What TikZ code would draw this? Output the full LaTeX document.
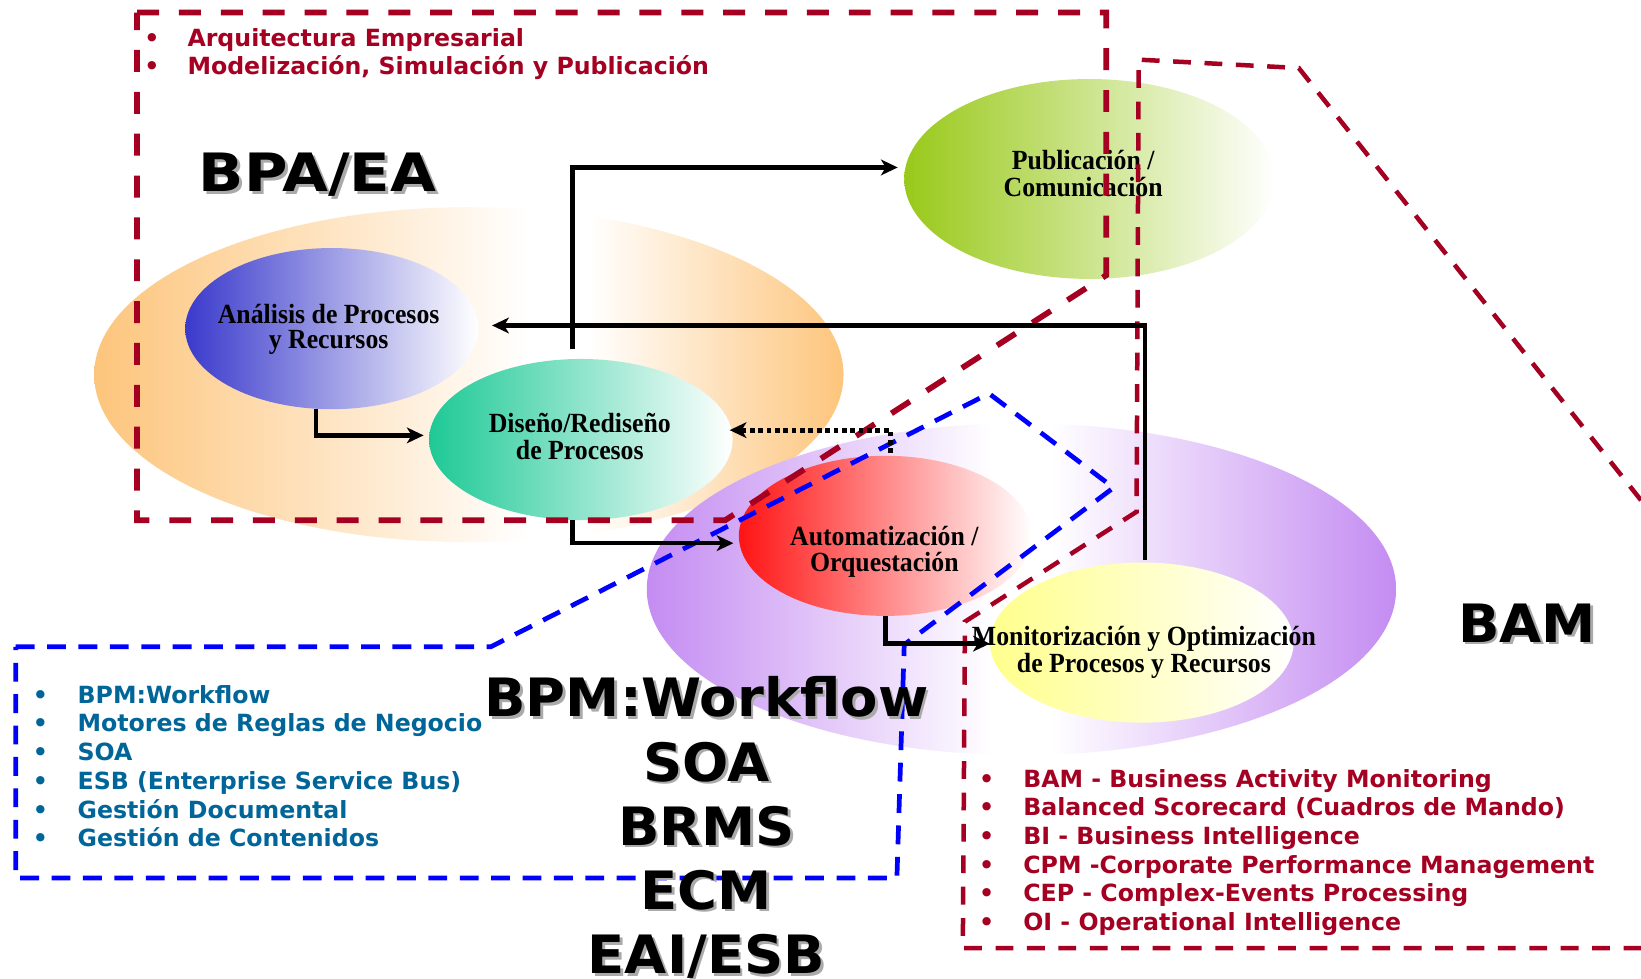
\documentclass[tikz,border=0pt]{standalone}
\usepackage{fontspec}
\setmainfont{Liberation Serif}
\newfontfamily\elfont[FakeStretch=0.93]{Liberation Serif}
\newfontfamily\bigfont[FakeStretch=1.03]{DejaVu Sans}
\newfontfamily\listfont{DejaVu Sans}
\usetikzlibrary{shapes.geometric,arrows.meta}
\definecolor{dred}{RGB}{165,0,33}
\definecolor{dblue}{RGB}{0,0,255}
\definecolor{tblue}{RGB}{0,102,153}
\definecolor{orng}{RGB}{253,197,124}
\definecolor{purp}{RGB}{196,140,242}
\definecolor{anablue}{RGB}{58,58,204}
\definecolor{teal}{RGB}{30,201,150}
\definecolor{lgreen}{RGB}{153,201,26}
\definecolor{autred}{RGB}{255,20,20}
\definecolor{yell}{RGB}{255,255,140}
\definecolor{shadowgray}{RGB}{170,170,170}
\pgfdeclarehorizontalshading{bpash}{100bp}{color(0bp)=(orng); color(25bp)=(orng); color(54bp)=(white); color(58bp)=(white); color(75bp)=(orng); color(100bp)=(orng)}
\pgfdeclarehorizontalshading{bpmsh}{100bp}{color(0bp)=(purp); color(25bp)=(purp); color(48bp)=(white); color(52bp)=(white); color(75bp)=(purp); color(100bp)=(purp)}
\newcommand\shtext[1]{\makebox[0pt][l]{\hspace{2.5pt}\raisebox{-2.5pt}{\textcolor{shadowgray}{#1}}}#1}
\tikzset{
  ell/.style={ellipse, draw=none, inner sep=0pt, right color=white},
  bigell/.style={ellipse, draw=none, inner sep=0pt, shade},
  elab/.style={font=\elfont\bfseries\fontsize{26.5}{23.5}\selectfont, anchor=base, inner sep=0pt},
  lst/.style={font=\listfont\bfseries\fontsize{22.6}{27.4}\selectfont, anchor=base west, inner sep=0pt},
  biglab/.style={font=\bigfont\bfseries\fontsize{50.5}{61.3}\selectfont, anchor=base, inner sep=0pt},
  conn/.style={line width=4.2pt, -{Stealth[length=16pt,width=15pt,inset=4.5pt]}},
  dotconn/.style={line width=4.8pt, dash pattern=on 4.5pt off 3.5pt, -{Stealth[length=16pt,width=15pt,inset=4.5pt]}},
  bpabox/.style={draw=dred, line width=5.5pt, dash pattern=on 21pt off 19pt},
  bambox/.style={draw=dred, line width=4.3pt, dash pattern=on 17pt off 13pt},
  bpmbox/.style={draw=dblue, line width=4.5pt, dash pattern=on 18pt off 12pt}
}
\begin{document}
\begin{tikzpicture}[x=1pt,y=-1pt]
\useasboundingbox (0,0) rectangle (1568,935);
\fill[white] (0,0) rectangle (1568,935);
% big ellipses
\node[bigell, shading=bpash, minimum width=716pt, minimum height=320pt] (bpa) at (448,358) {};
\node[bigell, shading=bpmsh, minimum width=716pt, minimum height=317pt] (bpm) at (976,563) {};
% process ellipses
\node[ell, left color=anablue, minimum width=280pt, minimum height=154pt] (ana) at (317,314) {};
\node[ell, left color=teal, minimum width=290pt, minimum height=154pt] (dis) at (555,420) {};
\node[ell, left color=lgreen, minimum width=354pt, minimum height=191pt] (pub) at (1041,171) {};
\node[ell, left color=autred, minimum width=280pt, minimum height=153pt] (aut) at (846,512) {};
\node[ell, left color=yell, minimum width=290pt, minimum height=153pt] (mon) at (1091,614) {};
% ellipse labels
\node[elab] (anatxt) at (314,309) {\begin{tabular}[t]{@{}c@{}}Análisis de Procesos\\y Recursos\end{tabular}};
\node[elab] (distxt) at (554,413.5) {\begin{tabular}[t]{@{}c@{}}Diseño/Rediseño\\de Procesos\end{tabular}};
\node[elab] (pubtxt) at (1035,162) {\begin{tabular}[t]{@{}c@{}}Publicación /\\Comunicación\end{tabular}};
\node[elab] (auttxt) at (845,521) {\begin{tabular}[t]{@{}c@{}}Automatización /\\Orquestación\end{tabular}};
\node[elab] (montxt) at (1093,617) {\begin{tabular}[t]{@{}c@{}}Monitorización y Optimización\\de Procesos y Recursos\end{tabular}};
% dashed regions
\draw[bpabox] (131,12) -- (1057,12) -- (1057,263) -- (693,497) -- (131,497) -- cycle;
\draw[bambox] (1568,478) -- (1241,65) -- (1088,57) -- (1086,489) -- (922,594) -- (920,906) -- (1568,906);
\draw[bpmbox] (15,618) -- (469,618) -- (945,376) -- (1064,466) -- (864,616) -- (857,839) -- (15,839) -- cycle;
% connectors
\draw[conn] ([xshift=-8pt,yshift=9pt]dis.north) |- ([xshift=-6pt,yshift=11pt]pub.west);
\draw[conn] ([xshift=3pt,yshift=2pt]mon.north) |- ([xshift=13pt,yshift=3pt]ana.east);
\draw[conn] ([xshift=-15pt]ana.south) |- ([xshift=-5pt,yshift=4pt]dis.west);
\draw[conn] ([xshift=-8pt]dis.south) |- ([xshift=-5pt,yshift=-7pt]aut.west);
\draw[conn] (aut.south) |- ([yshift=-1pt]mon.west);
\coordinate (dotstart) at (851,433);
\draw[dotconn] (dotstart) |- ([xshift=-3pt,yshift=9pt]dis.east);
% lists
\node[lst, text=dred] (toplist) at (145,44) {\begin{tabular}[t]{@{}l@{}}
\makebox[34pt][l]{\makebox[0pt]{•}}Arquitectura Empresarial\\
\makebox[34pt][l]{\makebox[0pt]{•}}Modelización, Simulación y Publicación\end{tabular}};
\node[lst, text=tblue] (bpmlist) at (38.5,672) {\begin{tabular}[t]{@{}l@{}}
\makebox[35.5pt][l]{\makebox[0pt]{•}}BPM:Workflow\\
\makebox[35.5pt][l]{\makebox[0pt]{•}}Motores de Reglas de Negocio\\
\makebox[35.5pt][l]{\makebox[0pt]{•}}SOA\\
\makebox[35.5pt][l]{\makebox[0pt]{•}}ESB (Enterprise Service Bus)\\
\makebox[35.5pt][l]{\makebox[0pt]{•}}Gestión Documental\\
\makebox[35.5pt][l]{\makebox[0pt]{•}}Gestión de Contenidos\end{tabular}};
\node[lst, text=dred] (bamlist) at (942.6,752) {\begin{tabular}[t]{@{}l@{}}
\makebox[35pt][l]{\makebox[0pt]{•}}BAM - Business Activity Monitoring\\
\makebox[35pt][l]{\makebox[0pt]{•}}Balanced Scorecard (Cuadros de Mando)\\
\makebox[35pt][l]{\makebox[0pt]{•}}BI - Business Intelligence\\
\makebox[35pt][l]{\makebox[0pt]{•}}CPM -Corporate Performance Management\\
\makebox[35pt][l]{\makebox[0pt]{•}}CEP - Complex-Events Processing\\
\makebox[35pt][l]{\makebox[0pt]{•}}OI - Operational Intelligence\end{tabular}};
% big labels
\node[biglab] (bpalbl) at (303.5,183) {\scalebox{1.09}[1]{\shtext{BPA/EA}}};
\node[biglab] (bamlbl) at (1459,613.6) {\shtext{BAM}};
\node[biglab] (techlbl) at (675,685) {\begin{tabular}[t]{@{}c@{}}\shtext{BPM:Workflow}\\\shtext{SOA}\\\shtext{BRMS}\\\shtext{ECM}\\\shtext{EAI/ESB}\end{tabular}};
\end{tikzpicture}
\end{document}
